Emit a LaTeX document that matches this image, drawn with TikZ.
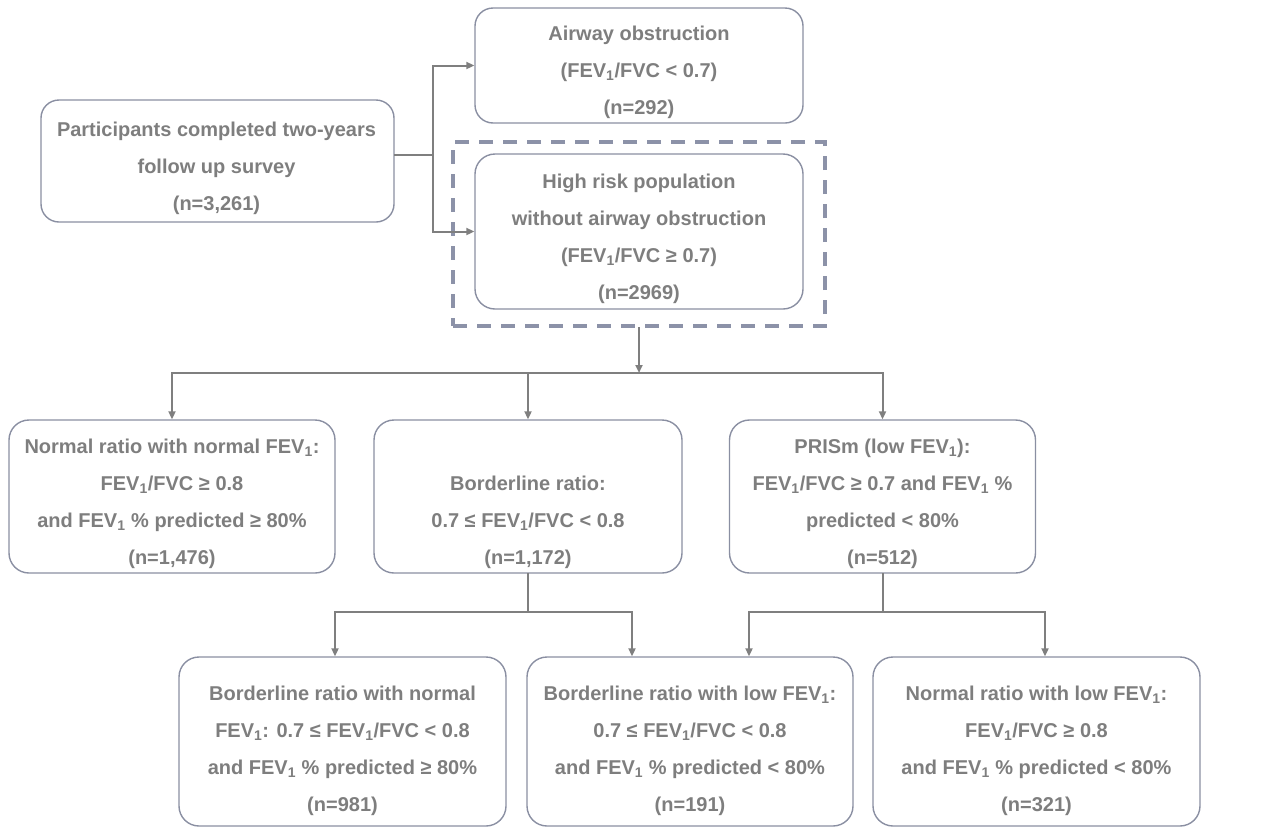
\documentclass[tikz,border=0pt]{standalone}
\usepackage{fontspec}
\setmainfont{Liberation Sans}
\usetikzlibrary{arrows.meta}
\definecolor{boxc}{HTML}{8A8FA2}
\definecolor{dashc}{HTML}{8C92A8}
\definecolor{linec}{HTML}{7F7F7F}
\definecolor{txtc}{HTML}{7E7E7E}
\newcommand{\fevone}{FEV\textsubscript{1}}
\begin{document}
\begin{tikzpicture}[x=1pt,y=-1pt,
  box/.style={draw=boxc, line width=1.4pt, rounded corners=20pt, inner sep=0pt},
  dashbox/.style={draw=dashc, line width=3.6pt, dash pattern=on 14pt off 10pt, inner sep=0pt},
  txt/.style={font=\bfseries\fontsize{20}{37}\selectfont, text=txtc, align=center, inner sep=0pt},
  conn/.style={draw=linec, line width=2pt, line cap=rect},
  arr/.style={conn, -{Triangle[length=8pt,width=7pt]}}]
\useasboundingbox (0,0) rectangle (1262,828);

% top level
\node[box, minimum width=353, minimum height=122, rounded corners=18pt] (A) at (217.5,161) {};
\node[txt] (At) at (216.5,168) {Participants completed two-years\\follow up survey\\(n=3,261)};

\node[box, minimum width=328, minimum height=115, rounded corners=18pt] (B) at (639,65.5) {};
\node[txt] (Bt) at (639,72.5) {Airway obstruction\\(\fevone/FVC < 0.7)\\(n=292)};

\node[dashbox, minimum width=372, minimum height=184] (HR) at (639,234) {};
\node[box, minimum width=328, minimum height=155] (C) at (639,231.5) {};
\node[txt] (Ct) at (639,238.5) {High risk population\\without airway obstruction\\(\fevone/FVC ≥ 0.7)\\(n=2969)};

% second row
\node[box, minimum width=326, minimum height=153] (D) at (172,496.5) {};
\node[txt] (Dt) at (172,503.5) {Normal ratio with normal \fevone:\\\fevone/FVC ≥ 0.8\\and \fevone{} \% predicted ≥ 80\%\\(n=1,476)};

\node[box, minimum width=308, minimum height=153] (E) at (528,496.5) {};
\node[txt] (Et) at (528,522) {Borderline ratio:\\0.7 ≤ \fevone/FVC < 0.8\\(n=1,172)};

\node[box, minimum width=306, minimum height=153] (F) at (882.5,496.5) {};
\node[txt] (Ft) at (882.5,503.5) {PRISm (low \fevone):\\\fevone/FVC ≥ 0.7 and \fevone{} \%\\predicted < 80\%\\(n=512)};

% third row
\node[box, minimum width=327, minimum height=169] (G) at (342.5,741.5) {};
\node[txt] (Gt) at (342.5,751) {Borderline ratio with normal\\\fevone: 0.7 ≤ \fevone/FVC < 0.8\\and \fevone{} \% predicted ≥ 80\%\\(n=981)};

\node[box, minimum width=326, minimum height=169] (H) at (690,741.5) {};
\node[txt] (Ht) at (690,751) {Borderline ratio with low \fevone:\\0.7 ≤ \fevone/FVC < 0.8\\and \fevone{} \% predicted < 80\%\\(n=191)};

\node[box, minimum width=327, minimum height=169] (I) at (1036.5,741.5) {};
\node[txt] (It) at (1036.5,751) {Normal ratio with low \fevone:\\\fevone/FVC ≥ 0.8\\and \fevone{} \% predicted < 80\%\\(n=321)};

% connectors: top split
\coordinate (s) at (433,155);
\draw[conn] (A.east |- s) -- (s);
\draw[arr] (s) |- (B.west);
\draw[arr] (s) |- (C.west);

% from high risk group to second row
\coordinate (h1) at (639,373);
\draw[arr] (HR.south) -- (h1);
\draw[conn] (D.north |- h1) -- (F.north |- h1);
\draw[arr] (D.north |- h1) -- (D.north);
\draw[arr] (E.north |- h1) -- (E.north);
\draw[arr] (F.north |- h1) -- (F.north);

% from borderline ratio to third row
\coordinate (g1) at (335,612);
\coordinate (g2) at (632,612);
\draw[conn] (E.south) -- (E.south |- g1);
\draw[conn] (g1) -- (g2);
\draw[arr] (g1) -- (g1 |- G.north);
\draw[arr] (g2) -- (g2 |- H.north);

% from PRISm to third row
\coordinate (g3) at (749,612);
\coordinate (g4) at (1045,612);
\draw[conn] (F.south) -- (F.south |- g3);
\draw[conn] (g3) -- (g4);
\draw[arr] (g3) -- (g3 |- H.north);
\draw[arr] (g4) -- (g4 |- I.north);
\end{tikzpicture}
\end{document}
